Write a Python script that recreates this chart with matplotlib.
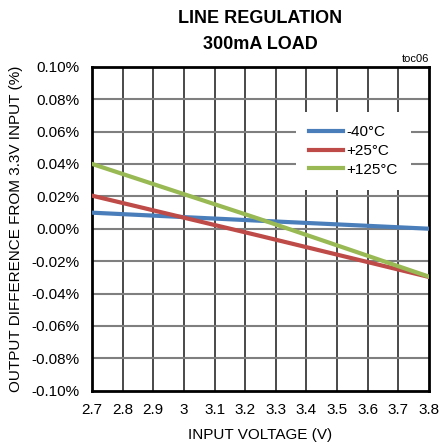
import matplotlib.pyplot as plt
import numpy as np

# line regulation at 300mA, output change relative to 3.3V input (%)
vin = [2.7, 3.25, 3.8]
dev_m40 = [0.0099, 0.0049, 0.0000]
dev_25 = [0.0204, -0.0045, -0.0298]
dev_125 = [0.0400, 0.0058, -0.0296]

series = [
    ("-40°C", dev_m40, "#4a7ebb"),
    ("+25°C", dev_25, "#be4b48"),
    ("+125°C", dev_125, "#98b954"),
]

xticks = np.round(np.arange(2.7, 3.81, 0.1), 1)
xlabels = ["2.7", "2.8", "2.9", "3", "3.1", "3.2", "3.3", "3.4", "3.5", "3.6", "3.7", "3.8"]
yticks = np.round(np.arange(-0.10, 0.101, 0.02), 2)

plt.rcParams['font.family'] = ['Liberation Sans Narrow', 'Liberation Sans', 'DejaVu Sans']

fig = plt.figure(figsize=(4.43, 4.46), dpi=100)
ax = fig.add_axes([0.2077, 0.124, 0.7607, 0.7264])

for x in xticks[1:-1]:
    ax.axvline(x, color="#3a3a3a", lw=1.3, zorder=1)
for y in yticks[1:-1]:
    ax.axhline(y, color="#7f7f7f", lw=1.5, zorder=1)

for name, vals, col in series:
    ax.plot(vin, vals, color=col, lw=3, label=name, zorder=3)

ax.set_xlim(2.7, 3.8)
ax.set_ylim(-0.10, 0.10)
ax.set_xticks(xticks)
ax.set_xticklabels(xlabels)
ax.set_yticks(yticks)
ax.set_yticklabels(["%.2f%%" % v for v in yticks])
ax.tick_params(length=0, labelsize=11, pad=9)
for s in ax.spines.values():
    s.set_linewidth(2)

ax.set_xlabel("INPUT VOLTAGE (V)", fontsize=11, labelpad=8)
ax.set_ylabel("OUTPUT DIFFERENCE FROM 3.3V INPUT (%)", fontsize=11, labelpad=6)

leg = ax.legend(loc="upper right", bbox_to_anchor=(0.97, 0.885), frameon=True,
                fontsize=11, handlelength=2.2, handletextpad=0.2,
                labelspacing=0.3, borderpad=0.9, fancybox=False)
leg.get_frame().set_edgecolor("none")
leg.get_frame().set_facecolor("white")
leg.get_frame().set_alpha(1)
leg.set_zorder(4)

fig.text(0.588, 0.958, "LINE REGULATION", ha="center", va="center",
         fontsize=13, fontweight="bold")
fig.text(0.588, 0.900, "300mA LOAD", ha="center", va="center",
         fontsize=13, fontweight="bold")
fig.text(0.968, 0.868, "toc06", ha="right", va="center", fontsize=8)

fig.savefig("out.png", dpi=100)
